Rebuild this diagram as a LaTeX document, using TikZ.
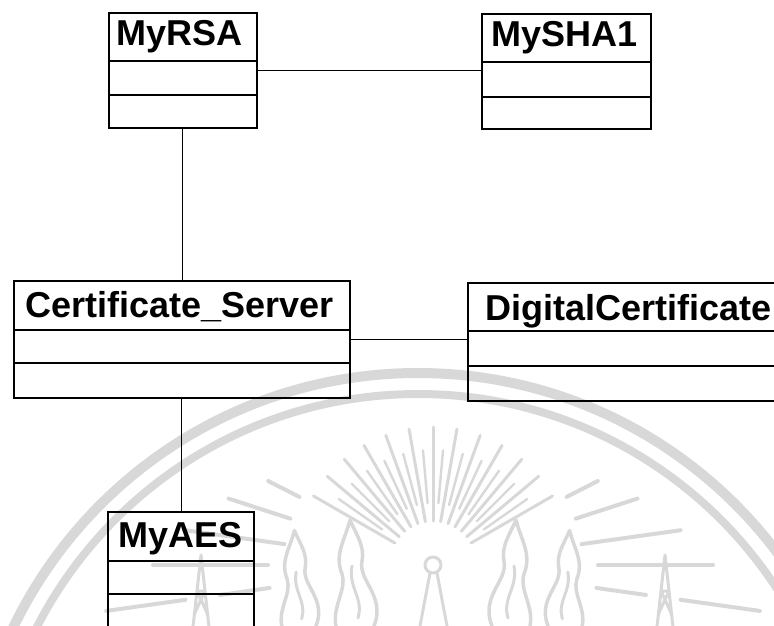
\documentclass[tikz,border=0pt]{standalone}
\usepackage{fontspec}
\setmainfont{Liberation Sans}
\usetikzlibrary{calc}

\definecolor{seal}{RGB}{216,216,216}

\tikzset{
  classbox/.style={draw=black, line width=1.8pt, inner sep=0pt, anchor=north west},
  classname/.style={font=\fontsize{36}{40}\selectfont\bfseries, inner sep=0pt, anchor=base},
  divider/.style={line width=1.8pt},
  link/.style={line width=1.1pt},
  sealline/.style={draw=seal, line cap=round, line join=round},
  flame/.pic={
    \draw[sealline, line width=3.5pt]
      (-20,0) .. controls (-32,-30) and (-4,-45) .. (-8,-65)
      .. controls (-11,-80) and (-2,-92) .. (4,-106)
      .. controls (9,-86) and (20,-72) .. (12,-52)
      .. controls (7,-36) and (22,-20) .. (18,0);
    \draw[sealline, line width=3pt]
      (-4,-8) .. controls (-10,-28) and (6,-38) .. (2,-60);
  },
  tower/.pic={
    \draw[sealline, line width=3pt]
      (0,0) -- (-8,72) (0,0) -- (8,72)
      (-4,36) -- (4,36) (-4,36) -- (7,60) (4,36) -- (-7,60);
  }
}

\begin{document}
\begin{tikzpicture}[x=1pt,y=-1pt]
\useasboundingbox (0,0) rectangle (774,626);

% faint seal behind the diagram
\begin{scope}
  \draw[sealline, line width=10pt] (418,822) circle[radius=449];
  \draw[sealline, line width=8pt]  (418,822) circle[radius=428];
  % sun rays
  \foreach \a in {30,40,...,150}
    \draw[sealline, line width=3pt]
      ({433+44*cos(\a)},{565-44*sin(\a)}) -- ({433+138*cos(\a)},{565-138*sin(\a)});
  \foreach \a in {35,45,...,145}
    \draw[sealline, line width=2.4pt]
      ({433+62*cos(\a)},{565-62*sin(\a)}) -- ({433+115*cos(\a)},{565-115*sin(\a)});
  % long horizontal strokes on both sides
  \foreach \a/\ri/\ro in {27/150/185, 18/150/215, 8/150/250, 0/165/280, -8/165/215, -8/250/330}{
    \draw[sealline, line width=4pt]
      ({433+\ri*cos(\a)},{565-\ri*sin(\a)}) -- ({433+\ro*cos(\a)},{565-\ro*sin(\a)});
    \draw[sealline, line width=4pt]
      ({433-\ri*cos(\a)},{565-\ri*sin(\a)}) -- ({433-\ro*cos(\a)},{565-\ro*sin(\a)});
  }
  % torch in the middle
  \draw[sealline, line width=3pt] (433,565) circle[radius=8];
  \draw[sealline, line width=3pt] (430,573) -- (420,626) (437,573) -- (447,626);
  % flames
  \pic at (512,626) {flame};
  \pic[xscale=-1] at (354,626) {flame};
  \pic[scale=0.9] at (566,626) {flame};
  \pic[xscale=-0.9,yscale=0.9] at (298,626) {flame};
  % small towers
  \pic at (665,555) {tower};
  \pic at (201,555) {tower};
\end{scope}

% classes
\node[classbox, minimum width=148pt, minimum height=115pt] (rsa)  at (108,12)  {};
\node[classbox, minimum width=169pt, minimum height=115pt] (sha)  at (481,13)  {};
\node[classbox, minimum width=336pt, minimum height=117pt] (cert) at (13,280)  {};
\node[classbox, minimum width=321pt, minimum height=118pt] (dig)  at (467,282) {};
\node[classbox, minimum width=146pt, minimum height=130pt] (aes)  at (107,511) {};

\node[classname] (rsaname)  at ($(rsa.north)+(-3,34)$)  {MyRSA};
\node[classname] (shaname)  at ($(sha.north)+(-2,34)$)  {MySHA1};
\node[classname] (certname) at ($(cert.north)+(-2,37)$) {Certificate\_Server};
\node[classname] (digname)  at ($(dig.north)+(0,38)$)   {DigitalCertificate};
\node[classname] (aesname)  at ($(aes.north)+(0,36)$)   {MyAES};

% compartment dividers
\foreach \n/\p/\q in {rsa/49/83, sha/49/84, cert/50/83, dig/49/84, aes/50/83}{
  \draw[divider] ([yshift=-\p pt]\n.north west) -- ([yshift=-\p pt]\n.north east);
  \draw[divider] ([yshift=-\q pt]\n.north west) -- ([yshift=-\q pt]\n.north east);
}

% associations
\draw[link] (rsa.east)   -- (rsa.east -| sha.west);
\draw[link] (rsa.south)  -- (rsa.south |- cert.north);
\draw[link] (cert.east)  -- (cert.east -| dig.west);
\draw[link] (cert.south) -- (cert.south |- aes.north);
\end{tikzpicture}
\end{document}
